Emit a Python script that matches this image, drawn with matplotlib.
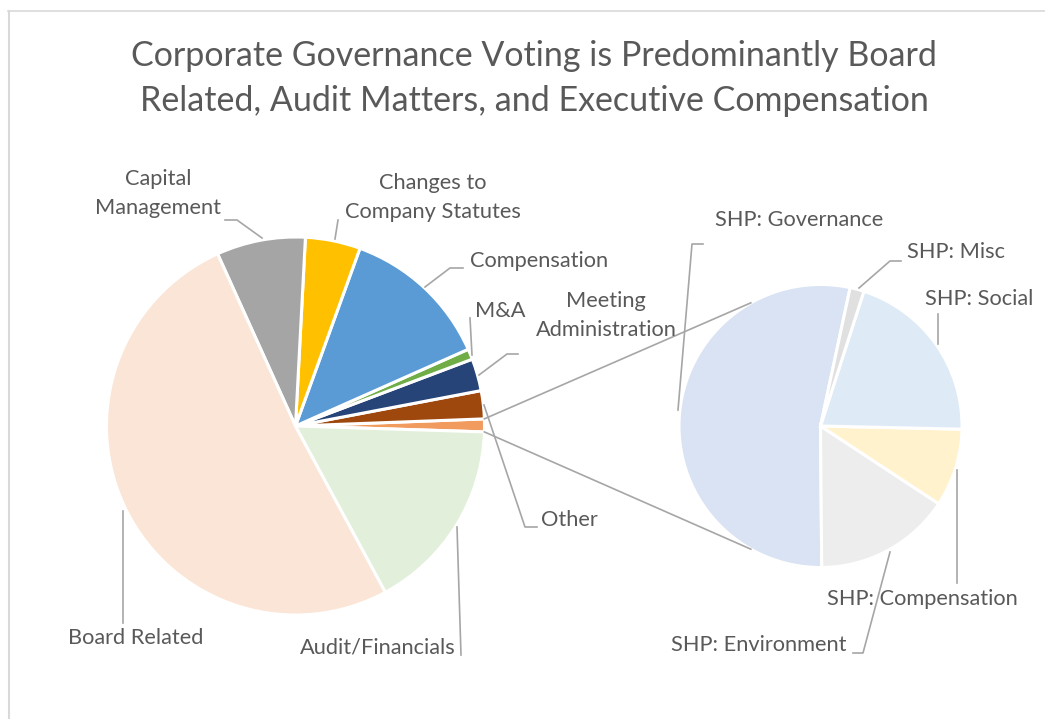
import numpy as np
import matplotlib
matplotlib.use('Agg')
import matplotlib.pyplot as plt

W, H = 1045, 719

# main pie, counterclockwise from the split-off slice at 3 o'clock
main_labels = ['SHP', 'Other', 'Meeting\nAdministration', 'M&A', 'Compensation',
               'Changes to\nCompany Statutes', 'Capital\nManagement', 'Board Related',
               'Audit/Financials']
main_values = [1.1, 2.4, 2.75, 0.9, 12.8, 4.7, 7.6, 51.1, 16.6]
main_colors = ['#F29B5F', '#9E480E', '#264478', '#70AD47', '#5B9BD5',
               '#FFC000', '#A5A5A5', '#FBE5D6', '#E2EFDA']

# shareholder proposals breakdown (second pie)
shp_labels = ['SHP: Governance', 'SHP: Environment', 'SHP: Compensation',
              'SHP: Social', 'SHP: Misc']
shp_values = [53.5, 15.6, 8.9, 20.4, 1.6]
shp_colors = ['#DAE3F3', '#EDEDED', '#FFF2CC', '#DEEBF7', '#E0E0E0']

title = 'Corporate Governance Voting is Predominantly Board\nRelated, Audit Matters, and Executive Compensation'

txt_color = '#595959'
line_color = '#A6A6A6'
plt.rcParams['font.family'] = ['Lato', 'DejaVu Sans']

fig = plt.figure(figsize=(W / 100, H / 100), dpi=100)
ax = fig.add_axes([0, 0, 1, 1])


def P(x, y):
    # pixel position (from top-left) -> data coords
    return x, H - y


c1, r1 = P(295.5, 426), 189
c2, r2 = P(820.5, 426), 141.5

w1, _ = ax.pie(main_values, colors=main_colors, startangle=-1.8, center=c1, radius=r1,
               wedgeprops=dict(edgecolor='white', linewidth=2.2))
w2, _ = ax.pie(shp_values, colors=shp_colors, startangle=77.9, center=c2, radius=r2,
               wedgeprops=dict(edgecolor='white', linewidth=2.2))

# connector lines between the SHP slice and the second pie
shp = w1[0]
for th1, th2 in [(shp.theta2, 119.5), (shp.theta1, -119.5)]:
    a, b = np.radians(th1), np.radians(th2)
    ax.plot([c1[0] + r1 * np.cos(a), c2[0] + r2 * np.cos(b)],
            [c1[1] + r1 * np.sin(a), c2[1] + r2 * np.sin(b)],
            color=line_color, lw=1.2, zorder=3)

# label text positions (x, y of first line, ha) and leader lines
label_pos = {
    'Capital\nManagement': (158, 179, 'center'),
    'Changes to\nCompany Statutes': (433, 183, 'center'),
    'Compensation': (470, 261, 'left'),
    'M&A': (475, 311, 'left'),
    'Meeting\nAdministration': (606, 301, 'center'),
    'Other': (541, 520, 'left'),
    'Board Related': (68, 638, 'left'),
    'Audit/Financials': (300, 648, 'left'),
    'SHP: Governance': (715, 220, 'left'),
    'SHP: Misc': (907, 252, 'left'),
    'SHP: Social': (925, 299, 'left'),
    'SHP: Compensation': (827, 599, 'left'),
    'SHP: Environment': (671, 645, 'left'),
}
leaders = [
    [(225, 220), (237, 220), (262, 238)],
    [(338, 220), (335, 239)],
    [(463, 268), (450, 268), (425, 287)],
    [(470, 318), (472, 355)],
    [(518, 354), (507, 354), (479, 375)],
    [(537, 527), (525, 527), (484, 405)],
    [(123, 623), (123, 511)],
    [(461, 655), (457, 527)],
    [(703, 244), (692, 244), (678, 410)],
    [(901, 261), (890, 261), (859, 288)],
    [(938, 314), (938, 344)],
    [(957, 583), (957, 470)],
    [(853, 653), (863, 653), (890, 552)],
]
for pts in leaders:
    xs, ys = zip(*[P(x, y) for x, y in pts])
    ax.plot(xs, ys, color=line_color, lw=1.2, zorder=3)

for lab in main_labels[1:] + shp_labels:
    x, y, ha = label_pos[lab]
    for i, line in enumerate(lab.split('\n')):
        ax.text(*P(x, y + i * 29), line, ha=ha, va='center', fontsize=15.7,
                color=txt_color, zorder=4)

for i, line in enumerate(title.split('\n')):
    ax.text(*P(534, 56 + i * 45), line, ha='center', va='center', fontsize=24.5,
            color=txt_color)

# chart border (top and left edges visible)
ax.plot([8, W], [H - 11, H - 11], color='#D9D9D9', lw=1.2, zorder=5)
ax.plot([8.5, 8.5], [H - 11, 0], color='#D9D9D9', lw=1.5, zorder=5)

ax.set_xlim(0, W)
ax.set_ylim(0, H)
ax.set_aspect('equal')
ax.axis('off')

fig.savefig('out.png', dpi=100)
